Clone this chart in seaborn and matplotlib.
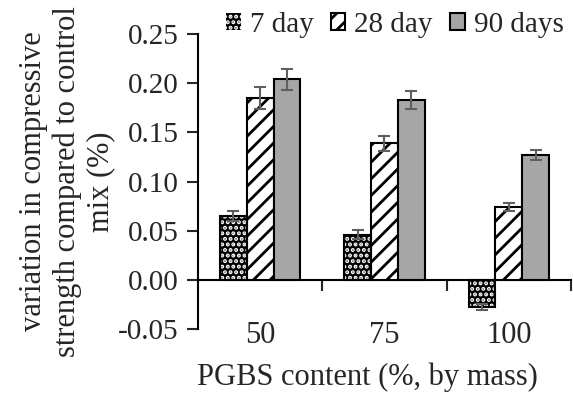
import matplotlib
matplotlib.use('Agg')
import matplotlib.pyplot as plt
from matplotlib.patches import Patch, Rectangle
import numpy as np
import pandas as pd
import seaborn as sns

# values
contents = ['50', '75', '100']
ages = ['7 day', '28 day', '90 days']
day7 = [0.065, 0.046, -0.028]
day28 = [0.185, 0.139, 0.074]
day90 = [0.204, 0.183, 0.127]
err7 = [0.005, 0.0045, 0.003]
err28 = [0.011, 0.0075, 0.004]
err90 = [0.0105, 0.009, 0.0055]

df = pd.DataFrame({
    'content': contents * 3,
    'age': [a for a in ages for _ in contents],
    'value': day7 + day28 + day90,
})

sns.set_style('white')
plt.rcParams['font.family'] = ['Liberation Serif', 'DejaVu Serif']
plt.rcParams['hatch.linewidth'] = 2.0
fs = 21

fig = plt.figure(figsize=(5.73, 4.01), dpi=100)
ax = fig.add_axes([0.3455, 0.1796, 0.651, 0.7355])

sns.barplot(data=df, x='content', y='value', hue='age', order=contents, hue_order=ages,
            palette=['black', 'white', '#a6a6a6'], width=0.645, edgecolor='black',
            linewidth=1.5, errorbar=None, legend=False, ax=ax)

# 7 day: black with white dots, 28 day: diagonal stripes
for p in ax.containers[0]:
    p.set_edgecolor('white')
    p.set_linewidth(0)
    p.set_hatch('...')
    ax.add_patch(Rectangle(p.get_xy(), p.get_width(), p.get_height(),
                           fill=False, ec='black', lw=1.5, zorder=p.get_zorder() + 0.1))
for p in ax.containers[1]:
    p.set_hatch('//')

for cont, vals, errs in zip(ax.containers, [day7, day28, day90], [err7, err28, err90]):
    xs = [p.get_x() + p.get_width() / 2 for p in cont]
    ax.errorbar(xs, vals, yerr=errs, fmt='none', ecolor='#5f5f5f', elinewidth=1.5,
                capsize=4.5, capthick=1.5, zorder=5)

ymin, ymax = -0.05, 0.25
ax.set_ylim(ymin, ymax)
ax.set_xlim(-0.5, 2.5)
yt = np.arange(-0.05, 0.2501, 0.05)
ax.set_yticks(yt)
ax.set_yticklabels([f'{v:.2f}' for v in yt])
ax.tick_params(axis='y', direction='out', length=8, width=1.5, labelsize=fs, pad=6, left=True)
ax.tick_params(axis='x', length=0, labelsize=22, pad=-6)

for side in ['top', 'right', 'bottom']:
    ax.spines[side].set_visible(False)
ax.spines['left'].set_linewidth(1.5)
ax.spines['left'].set_color('black')

# zero line with category separator ticks
sec = ax.secondary_xaxis((0 - ymin) / (ymax - ymin))
sec.set_xticks([0.5, 1.5, 2.5])
sec.tick_params(direction='out', length=8, width=1.5, labelbottom=False)
sec.spines['bottom'].set_linewidth(1.5)
sec.spines['bottom'].set_color('black')

ax.set_xlabel('PGBS content (%, by mass)', fontsize=22)
ax.xaxis.set_label_coords(0.453, -0.115)
ax.xaxis.label.set_va('top')
ax.set_ylabel('variation in compressive\nstrength compared to control\nmix (%)',
              fontsize=22, linespacing=1.2, labelpad=2)

handles = [
    Patch(facecolor='black', edgecolor='white', hatch='...', lw=0),
    Patch(facecolor='white', edgecolor='black', hatch='//', lw=1.5),
    Patch(facecolor='#a6a6a6', edgecolor='black', lw=1.5),
]
ax.legend(handles, ages, loc='center', bbox_to_anchor=(0.689, 0.938), bbox_transform=fig.transFigure,
          ncol=3, frameon=False, fontsize=fs, handlelength=0.5, handleheight=0.5,
          handletextpad=0.3, columnspacing=0.6, borderaxespad=0)

fig.savefig('out.png', dpi=100)
